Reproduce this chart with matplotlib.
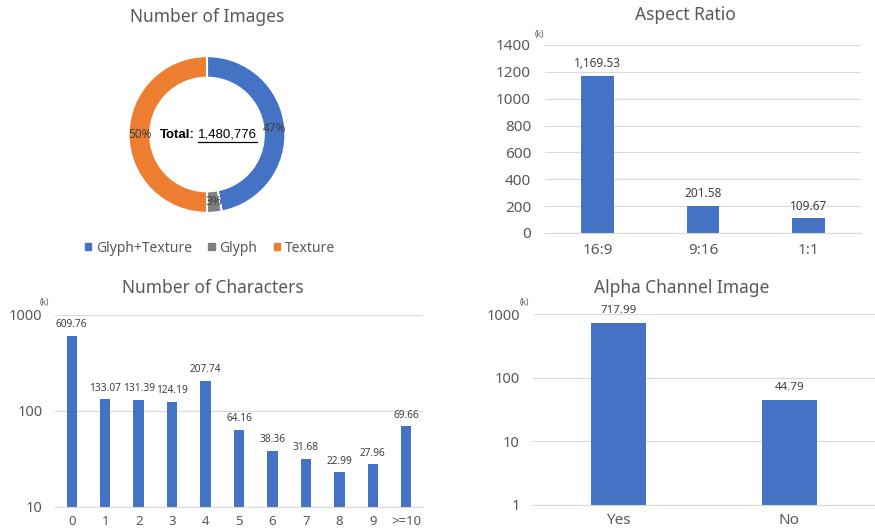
import matplotlib.pyplot as plt
from matplotlib.patches import Patch
from matplotlib.lines import Line2D
from matplotlib.ticker import FixedLocator, NullLocator

plt.rcParams['font.family'] = ['Noto Sans', 'DejaVu Sans']

# data
pie_labels = ["Glyph+Texture", "Glyph", "Texture"]
pie_pct = [47, 3, 50]
total_images = 1480776

aspect_cats = ["16:9", "9:16", "1:1"]
aspect_vals = [1169.53, 201.58, 109.67]

char_cats = ["0", "1", "2", "3", "4", "5", "6", "7", "8", "9", ">=10"]
char_vals = [609.76, 133.07, 131.39, 124.19, 207.74, 64.16, 38.36, 31.68, 22.99, 27.96, 69.66]

alpha_cats = ["Yes", "No"]
alpha_vals = [717.99, 44.79]

BLUE = '#4472C4'
ORANGE = '#ED7D31'
GRAY = '#7F7F7F'
TXT = '#595959'
LBL = '#404040'
GRID = '#D9D9D9'

W, H = 875, 529
fig = plt.figure(figsize=(W / 100, H / 100), dpi=100)


def px_axes(x0, y0, x1, y1):
    # pixel box (top-left origin) -> figure axes
    return fig.add_axes([x0 / W, 1 - y1 / H, (x1 - x0) / W, (y1 - y0) / H])


def ftext(x, y, s, **kw):
    return fig.text(x / W, 1 - y / H, s, **kw)


# ---- donut ----
ax = px_axes(207 - 80, 134.5 - 80, 207 + 80, 134.5 + 80)
wedges, _, autotexts = ax.pie(pie_pct, colors=[BLUE, GRAY, ORANGE], startangle=90,
                              counterclock=False, radius=0.98,
                              autopct=lambda p: f"{p:.0f}%", pctdistance=0.86,
                              wedgeprops=dict(width=0.27, edgecolor='white', linewidth=1.5),
                              textprops=dict(color=LBL, fontsize=8.5))
ax.set_xlim(-1, 1)
ax.set_ylim(-1, 1)
ax.set_aspect('equal')
ax.axis('off')

ftext(207, 17, "Number of Images", ha='center', va='center', fontsize=12.5, color=TXT)
t1 = ftext(195, 134.5, "Total:", ha='right', va='center', fontsize=9.5,
           fontweight='bold', family='Liberation Sans', color='black')
t2 = ftext(198, 134.5, f"{total_images:,}", ha='left', va='center', fontsize=9.5,
           family='Liberation Sans', color='black')
fig.canvas.draw()
bb = t2.get_window_extent()
fig.add_artist(Line2D([bb.x0 / W, bb.x1 / W], [(bb.y0 - 1) / H, (bb.y0 - 1) / H],
                      transform=fig.transFigure, color='black', lw=0.9))

handles = [Patch(color=c) for c in [BLUE, GRAY, ORANGE]]
fig.legend(handles, pie_labels, loc='center', bbox_to_anchor=(210 / W, 1 - 248 / H),
           ncol=3, frameon=False, fontsize=10, labelcolor=TXT,
           handlelength=0.45, handleheight=0.45, handletextpad=0.35,
           columnspacing=1.2, borderpad=0)


def style_bar_axes(ax, pad):
    for s in ['top', 'right', 'left']:
        ax.spines[s].set_visible(False)
    ax.spines['bottom'].set_color(GRID)
    ax.grid(axis='y', color=GRID, lw=0.8)
    ax.set_axisbelow(True)
    ax.tick_params(length=0, colors=TXT)
    ax.tick_params(axis='y', pad=pad)


# ---- aspect ratio ----
ax = px_axes(545, 45, 861, 233)
ax.bar(range(len(aspect_cats)), aspect_vals, width=0.31, color=BLUE)
ax.set_xlim(-0.5, len(aspect_cats) - 0.5)
ax.set_ylim(0, 1400)
ax.set_yticks(range(0, 1401, 200))
ax.set_xticks(range(len(aspect_cats)))
ax.set_xticklabels(aspect_cats)
style_bar_axes(ax, 10)
ax.tick_params(axis='y', labelsize=11)
ax.tick_params(axis='x', labelsize=11, pad=7)
for i, v in enumerate(aspect_vals):
    ax.annotate(f"{v:,.2f}", (i, v), xytext=(0, 4), textcoords='offset points',
                ha='center', va='bottom', fontsize=8.5, fontweight='bold', color=LBL)
ftext(685, 15, "Aspect Ratio", ha='center', va='center', fontsize=12.5, color=TXT)
ftext(539, 35, "(k)", ha='center', va='center', fontsize=6, color=TXT)

# ---- number of characters ----
ax = px_axes(55, 315, 423, 507)
ax.bar(range(len(char_cats)), char_vals, width=0.31, color=BLUE)
ax.set_yscale('log')
ax.set_xlim(-0.5, len(char_cats) - 0.5)
ax.set_ylim(10, 1000)
ax.yaxis.set_major_locator(FixedLocator([10, 100, 1000]))
ax.yaxis.set_minor_locator(NullLocator())
ax.set_yticklabels(["10", "100", "1000"])
ax.set_xticks(range(len(char_cats)))
ax.set_xticklabels(char_cats)
style_bar_axes(ax, 9)
ax.tick_params(axis='y', labelsize=10.5)
ax.tick_params(axis='x', labelsize=9.5, pad=6)
for i, v in enumerate(char_vals):
    ax.annotate(f"{v:.2f}", (i, v), xytext=(0, 4), textcoords='offset points',
                ha='center', va='bottom', fontsize=7.3, color=LBL)
ftext(213, 288, "Number of Characters", ha='center', va='center', fontsize=12.5, color=TXT)
ftext(44, 302, "(k)", ha='center', va='center', fontsize=6, color=TXT)

# ---- alpha channel ----
ax = px_axes(533, 314, 875, 505)
ax.bar(range(len(alpha_cats)), alpha_vals, width=0.32, color=BLUE)
ax.set_yscale('log')
ax.set_xlim(-0.5, len(alpha_cats) - 0.5)
ax.set_ylim(1, 1000)
ax.yaxis.set_major_locator(FixedLocator([1, 10, 100, 1000]))
ax.yaxis.set_minor_locator(NullLocator())
ax.set_yticklabels(["1", "10", "100", "1000"])
ax.set_xticks(range(len(alpha_cats)))
ax.set_xticklabels(alpha_cats)
style_bar_axes(ax, 9.5)
ax.tick_params(axis='y', labelsize=10.5)
ax.tick_params(axis='x', labelsize=11, pad=6)
for i, v in enumerate(alpha_vals):
    ax.annotate(f"{v:.2f}", (i, v), xytext=(0, 5), textcoords='offset points',
                ha='center', va='bottom', fontsize=8.3, color=LBL)
ftext(682, 288, "Alpha Channel Image", ha='center', va='center', fontsize=12.5, color=TXT)
ftext(524, 302, "(k)", ha='center', va='center', fontsize=6, color=TXT)

fig.savefig("out.png", dpi=100)
